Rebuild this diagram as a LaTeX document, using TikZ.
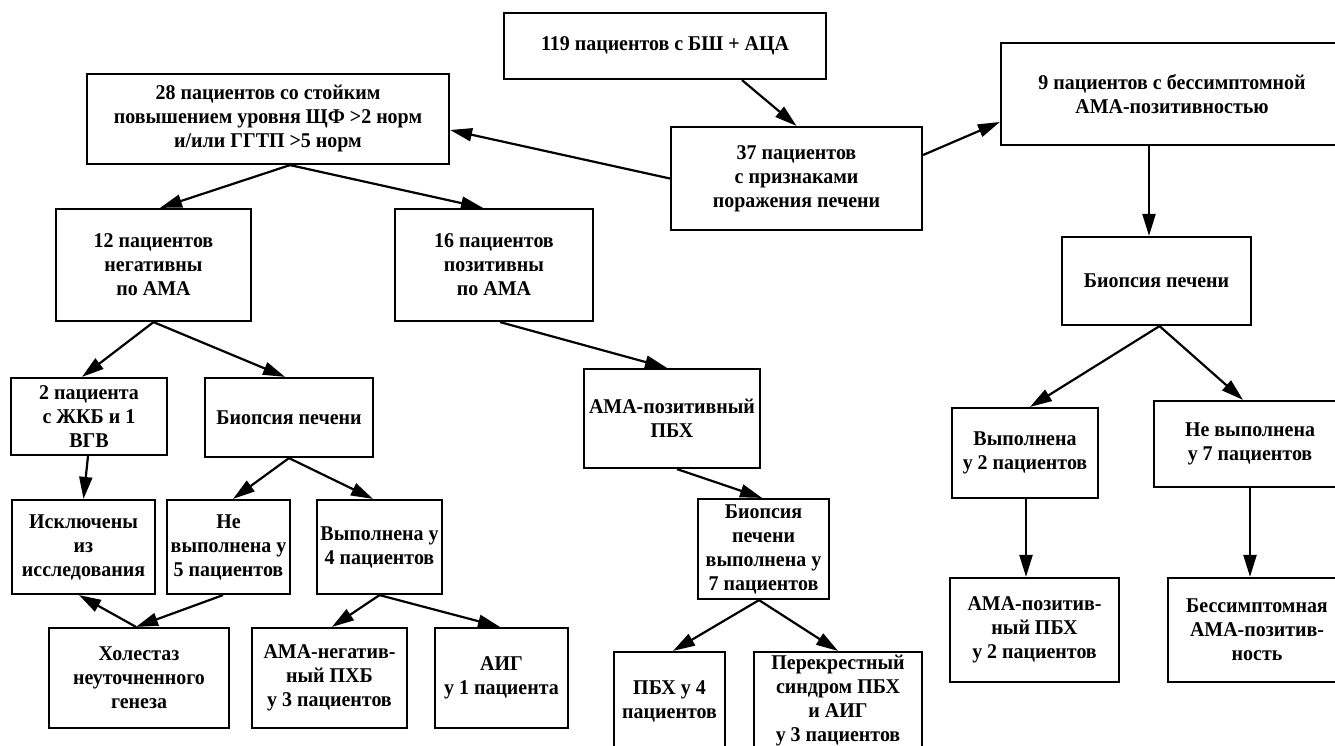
\documentclass[tikz,border=0pt]{standalone}
\usepackage{fontspec}
\setmainfont[FakeStretch=0.95]{Liberation Serif}
\usetikzlibrary{arrows.meta}
\tikzset{
  box/.style={draw, line width=2.2pt, align=center, inner sep=1pt, font=\bfseries\fontsize{21}{24}\selectfont},
  arr/.style={line width=2.2pt, -{Triangle[length=22pt,width=13pt]}}
}
\newcommand\bx[6]{\node[box, minimum width=#4pt, minimum height=#5pt] (#1) at (#2,#3) {#6};}
\begin{document}
\begin{tikzpicture}[x=1pt,y=-1pt]
\useasboundingbox (0,0) rectangle (1335,746);
\clip (0,0) rectangle (1335,746);
\fill[white] (0,0) rectangle (1335,746);
% boxes
\bx{n119}{665}{46}{322}{66}{119 пациентов с БШ + АЦА}
\bx{n37}{796.5}{178.5}{251}{103}{37 пациентов\\с признаками\\поражения печени}
\bx{n28}{268}{119}{362}{90}{28 пациентов со стойким\\повышением уровня ЩФ >2 норм\\и/или ГГТП >5 норм}
\bx{n9}{1172}{94}{342}{102}{9 пациентов с бессимптомной\\АМА-позитивностью}
\bx{bR}{1156.5}{281}{189}{88}{Биопсия печени}
\bx{v2}{1025}{453}{146}{90}{Выполнена\\у 2 пациентов}
\bx{nv7}{1250}{444}{192}{86}{Не выполнена\\у 7 пациентов}
\bx{ama2}{1034.5}{630}{169}{104}{АМА-позитив-\\ный ПБХ\\у 2 пациентов}
\bx{bess}{1257}{630}{178}{104}{Бессимптомная\\АМА-позитив-\\ность}
\bx{n12}{153.5}{265}{195}{112}{12 пациентов\\негативны\\по АМА}
\bx{n16}{494}{265}{198}{112}{16 пациентов\\позитивны\\по АМА}
\bx{n2}{89}{416.5}{156}{77}{2 пациента\\с ЖКБ и 1\\ВГВ}
\bx{bL}{289}{417.5}{168}{79}{Биопсия печени}
\bx{isk}{83.5}{547}{143}{94}{Исключены\\из\\исследования}
\bx{nv5}{228.5}{547}{123}{94}{Не\\выполнена у\\5 пациентов}
\bx{v4}{379.5}{547}{125}{94}{Выполнена у\\4 пациентов}
\bx{hol}{139}{678}{180}{100}{Холестаз\\неуточненного\\генеза}
\bx{amaneg}{329.5}{678}{155}{100}{АМА-негатив-\\ный ПХБ\\у 3 пациентов}
\bx{aig}{501.5}{678}{133}{100}{АИГ\\у 1 пациента}
\bx{amapbh}{672}{418.5}{176}{99}{АМА-позитивный\\ПБХ}
\bx{b7}{763.5}{549}{131}{100}{Биопсия\\печени\\выполнена у\\7 пациентов}
\bx{pbh4}{669.5}{701}{111}{98}{ПБХ у 4\\пациентов}
\bx{perek}{838}{701}{168}{98}{Перекрестный\\синдром ПБХ\\и АИГ\\у 3 пациентов}
% arrows
\draw[arr] ([xshift=77pt]n119.south) -- (n37.north);
\draw[arr] (n37.west) -- ([yshift=-11pt]n28.east);
\draw[arr] ([yshift=23.5pt]n37.east) -- ([yshift=-28pt]n9.west);
\draw[arr] ([xshift=-23pt]n9.south) -- ([xshift=-7.5pt]bR.north);
\draw[arr] ([xshift=3pt]bR.south) -- ([xshift=5pt]v2.north);
\draw[arr] ([xshift=3pt]bR.south) -- ([xshift=-7pt]nv7.north);
\draw[arr] ([xshift=1pt]v2.south) -- ([xshift=-8.5pt]ama2.north);
\draw[arr] (nv7.south) -- ([xshift=-7pt]bess.north);
\draw[arr] ([xshift=22pt]n28.south) -- ([xshift=6.5pt]n12.north);
\draw[arr] ([xshift=22pt]n28.south) -- ([xshift=-11pt]n16.north);
\draw[arr] (n12.south) -- ([xshift=-7pt]n2.north);
\draw[arr] (n12.south) -- ([xshift=-4pt]bL.north);
\draw[arr] ([xshift=6pt]n16.south) -- ([xshift=-5pt]amapbh.north);
\draw[arr] ([xshift=5pt]amapbh.south) -- ([xshift=-1.5pt]b7.north);
\draw[arr] ([xshift=-4.5pt]b7.south) -- ([xshift=3.5pt]pbh4.north);
\draw[arr] ([xshift=-4.5pt]b7.south) -- (perek.north);
\draw[arr] ([xshift=-1pt]n2.south) -- (isk.north);
\draw[arr] (bL.south) -- ([xshift=4.5pt]nv5.north);
\draw[arr] (bL.south) -- ([xshift=-6.5pt]v4.north);
\draw[arr] ([xshift=-5.5pt]nv5.south) -- ([xshift=-3pt]hol.north);
\draw[arr] ([xshift=-3pt]hol.north) -- ([xshift=-4.5pt]isk.south);
\draw[arr] (v4.south) -- ([xshift=2.5pt]amaneg.north);
\draw[arr] (v4.south) -- ([xshift=-1.5pt]aig.north);
\end{tikzpicture}
\end{document}
